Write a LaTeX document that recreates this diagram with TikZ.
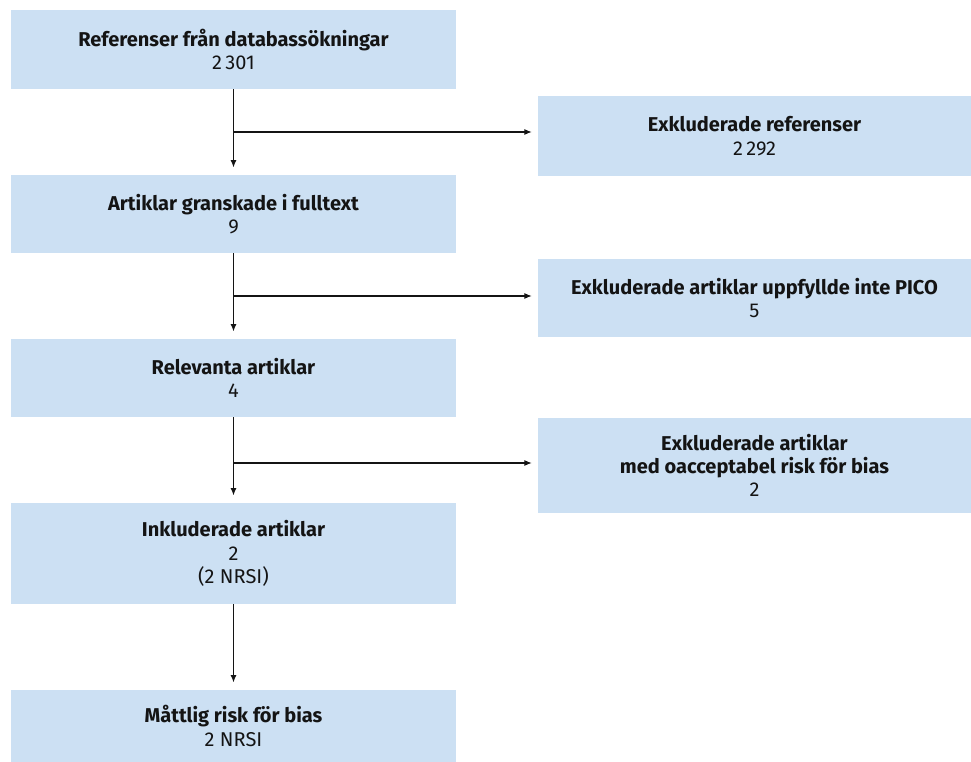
\documentclass[tikz,border=0pt]{standalone}
\usepackage{fontspec}
\setmainfont[Ligatures=NoCommon]{Fira Sans}
\usetikzlibrary{arrows.meta}
\definecolor{boxblue}{RGB}{204,224,243}
\definecolor{ink}{RGB}{20,20,20}
\begin{document}
\begin{tikzpicture}[x=0.75pt,y=-0.75pt,
  box/.style={fill=boxblue, draw=none, align=center, inner sep=0pt,
    font=\fontsize{15}{17.5}\selectfont, text=ink},
  lbox/.style={box, minimum width=333.75pt},
  rbox/.style={box, minimum width=324.75pt},
  flow/.style={draw=ink, line width=0.8pt, -{Latex[length=5.5pt,width=4.5pt]}},
  branch/.style={flow, shorten >=4.5pt},
  down/.style={flow, shorten >=5.5pt}]
\useasboundingbox (0,0) rectangle (971,762);

% main column
\node[lbox, minimum height=59.25pt] (l1) at (233.5,49.5)
  {\textbf{Referenser från databassökningar}\\2\,301};
\node[lbox, minimum height=58.5pt] (l2) at (233.5,214)
  {\textbf{Artiklar granskade i fulltext}\\9};
\node[lbox, minimum height=58.5pt] (l3) at (233.5,378)
  {\textbf{Relevanta artiklar}\\4};
\node[lbox, minimum height=75.75pt] (l4) at (233.5,553.5)
  {\textbf{Inkluderade artiklar}\\2\\(2 NRSI)};
\node[lbox, minimum height=54pt] (l5) at (233.5,726)
  {\textbf{Måttlig risk för bias}\\2 NRSI};

% exclusions
\node[rbox, minimum height=60pt] (r1) at (754.5,136)
  {\textbf{Exkluderade referenser}\\2\,292};
\node[rbox, minimum height=58.5pt] (r2) at (754.5,298)
  {\textbf{Exkluderade artiklar uppfyllde inte PICO}\\5};
\node[rbox, minimum height=71.25pt] (r3) at (754.5,465.5)
  {\textbf{Exkluderade artiklar}\\\textbf{med oacceptabel risk för bias}\\2};

% branch points on the main line
\coordinate (b1) at (233.5,132);
\coordinate (b2) at (233.5,296);
\coordinate (b3) at (233.5,463);

% connectors
\draw[down] (l1.south) -- (l2.north);
\draw[down] (l2.south) -- (l3.north);
\draw[down] (l3.south) -- (l4.north);
\draw[down] (l4.south) -- (l5.north);
\draw[branch] (b1) -- (b1 -| r1.west);
\draw[branch] (b2) -- (b2 -| r2.west);
\draw[branch] (b3) -- (b3 -| r3.west);
\end{tikzpicture}
\end{document}
